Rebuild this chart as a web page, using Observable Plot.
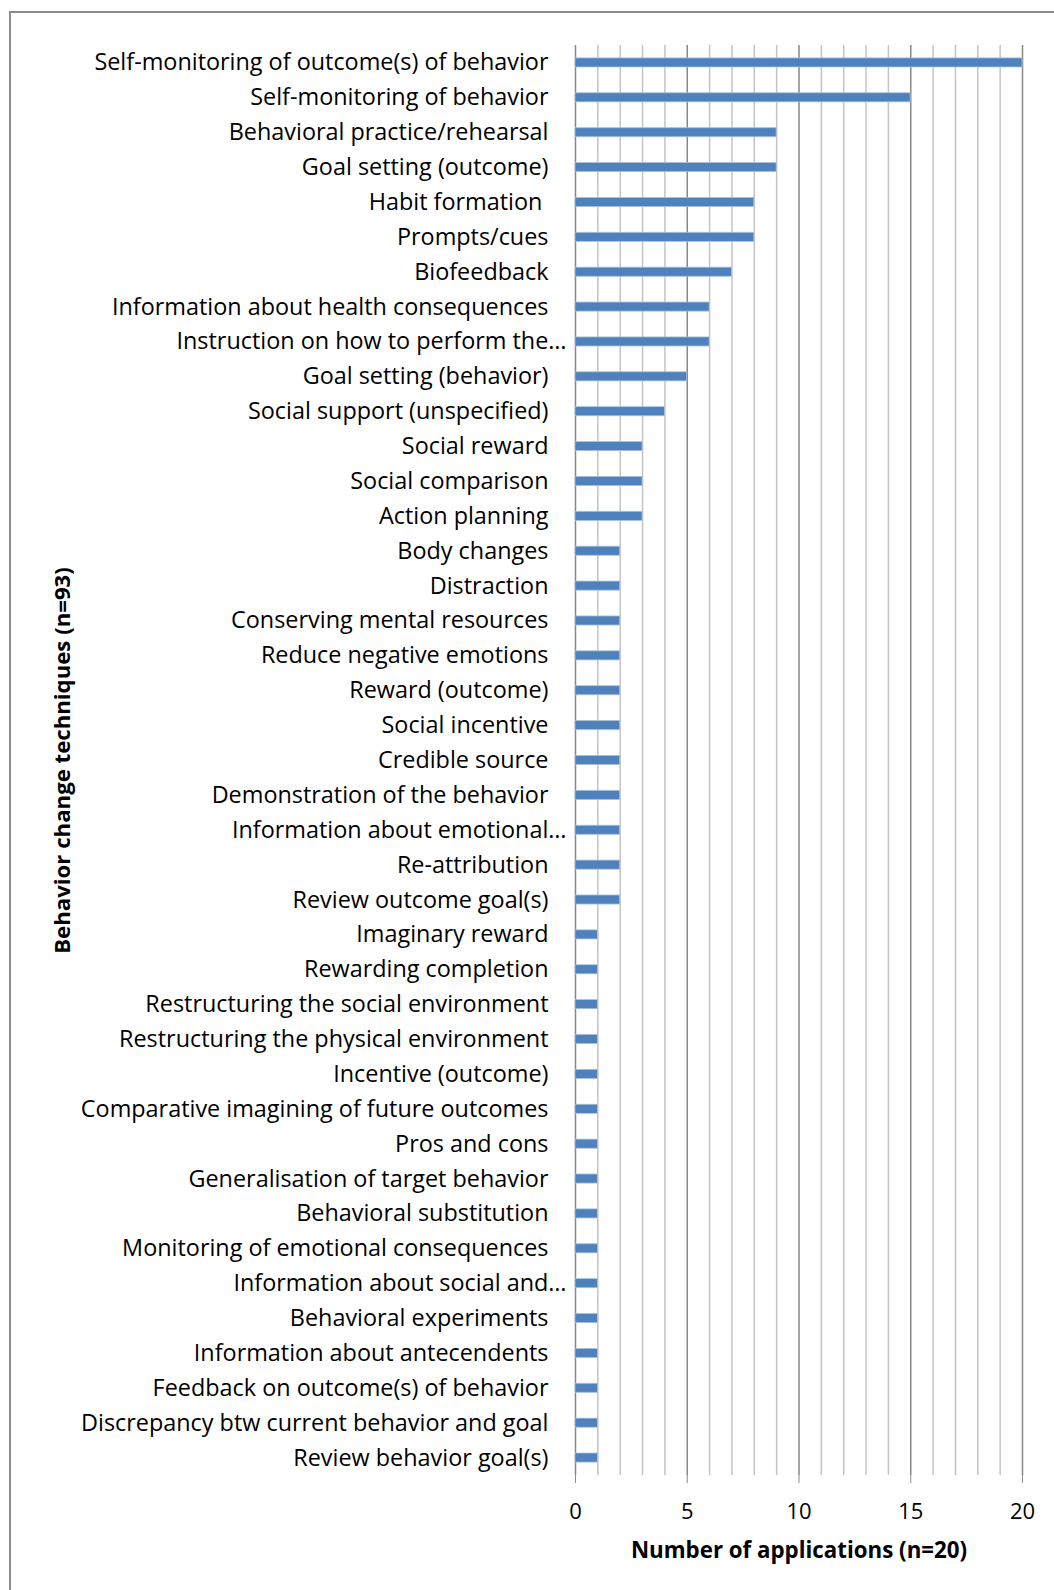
<!DOCTYPE html>
<html>
<head>
<meta charset="utf-8">
<script src="https://cdn.jsdelivr.net/npm/d3@7"></script>
<script src="https://cdn.jsdelivr.net/npm/@observablehq/plot@0.6"></script>
<style>
  html, body { margin: 0; padding: 0; background: #fff; }
  #wrap { position: relative; width: 1054px; height: 1590px; overflow: hidden; }
  #frame { position: absolute; left: 9px; top: 11px; width: 1100px; height: 1700px;
           border-left: 2px solid #8c8c8c; border-top: 2px solid #8c8c8c; box-sizing: border-box; }
  #chart { position: absolute; left: 0; top: 0; }
  #chart svg { overflow: visible; }
  #chart text { white-space: pre; }
</style>
</head>
<body>
<div id="wrap"><div id="frame"></div><div id="chart"></div></div>
<script>
const techniques = [
  "Self-monitoring of outcome(s) of behavior",
  "Self-monitoring of behavior",
  "Behavioral practice/rehearsal",
  "Goal setting (outcome)",
  "Habit formation ",
  "Prompts/cues",
  "Biofeedback",
  "Information about health consequences",
  "Instruction on how to perform the…",
  "Goal setting (behavior)",
  "Social support (unspecified)",
  "Social reward",
  "Social comparison",
  "Action planning",
  "Body changes",
  "Distraction",
  "Conserving mental resources",
  "Reduce negative emotions",
  "Reward (outcome)",
  "Social incentive",
  "Credible source",
  "Demonstration of the behavior",
  "Information about emotional…",
  "Re-attribution",
  "Review outcome goal(s)",
  "Imaginary reward",
  "Rewarding completion",
  "Restructuring the social environment",
  "Restructuring the physical environment",
  "Incentive (outcome)",
  "Comparative imagining of future outcomes",
  "Pros and cons",
  "Generalisation of target behavior",
  "Behavioral substitution",
  "Monitoring of emotional consequences",
  "Information about social and…",
  "Behavioral experiments",
  "Information about antecendents",
  "Feedback on outcome(s) of behavior",
  "Discrepancy btw current behavior and goal",
  "Review behavior goal(s)"
];
const applications = [20, 15, 9, 9, 8, 8, 7, 6, 6, 5, 4, 3, 3, 3,
  2, 2, 2, 2, 2, 2, 2, 2, 2, 2, 2,
  1, 1, 1, 1, 1, 1, 1, 1, 1, 1, 1, 1, 1, 1, 1, 1];
const xTicks = [0, 5, 10, 15, 20];
const minorGrid = d3.range(1, 20).filter(v => v % 5 !== 0);
const yTitle = "Behavior change techniques (n=93)";
const xTitle = "Number of applications (n=20)";

const data = techniques.map((t, i) => ({technique: t, count: applications[i]}));
const font = "'Open Sans', 'DejaVu Sans', sans-serif";
const truncated = techniques.filter(t => t.endsWith("…"));
const full = techniques.filter(t => !t.endsWith("…"));

const chart = Plot.plot({
  width: 1054,
  height: 1590,
  marginLeft: 575,
  marginRight: 32,
  marginTop: 45,
  marginBottom: 115,
  style: {fontFamily: font, fontSize: "23.4px", color: "#000", background: "transparent"},
  x: {domain: [0, 20], ticks: xTicks},
  y: {domain: techniques, paddingInner: 0.74, paddingOuter: 0.37},
  marks: [
    Plot.ruleX(minorGrid, {stroke: "#c4c4c4", strokeWidth: 1.5}),
    Plot.ruleX(xTicks, {stroke: "#878787", strokeWidth: 1.5}),
    Plot.ruleY([0], {frameAnchor: "bottom", stroke: "#8c8c8c", strokeWidth: 1.5}),
    Plot.barX(data, {x: "count", y: "technique", fill: "#4f81bd", stroke: "#a9c0de", strokeWidth: 0.8}),
    Plot.axisX({ticks: xTicks, tickSize: 8, tickPadding: 20, stroke: "#8c8c8c", fontSize: 22, label: null}),
    Plot.axisY(full, {tickSize: 0, tickPadding: 27, fontSize: 23.4, label: null}),
    Plot.axisY(truncated, {tickSize: 0, tickPadding: 9, fontSize: 23.4, label: null}),
    Plot.text([xTitle], {frameAnchor: "bottom", dy: 82, textAnchor: "middle", fontWeight: "bold", fontSize: 22.3, text: d => d}),
    Plot.text([yTitle], {frameAnchor: "left", dx: -513, rotate: -90, textAnchor: "middle", fontWeight: "bold", fontSize: 22.2, text: d => d})
  ]
});
document.getElementById("chart").appendChild(chart);
</script>
</body>
</html>
